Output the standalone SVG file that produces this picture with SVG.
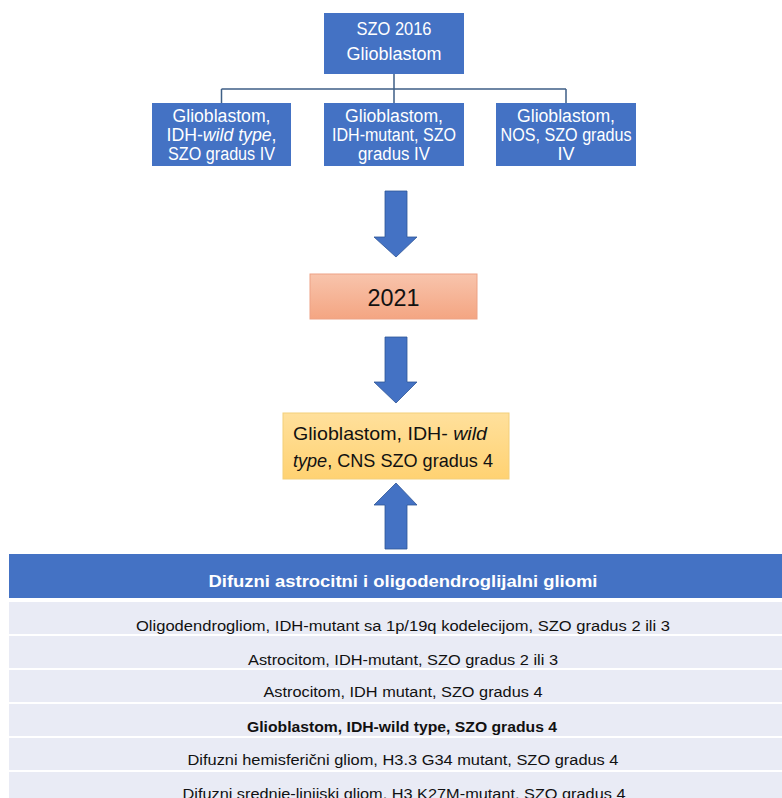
<svg xmlns="http://www.w3.org/2000/svg" width="782" height="798" viewBox="0 0 782 798">
<defs>
<linearGradient id="gOrange" x1="0" y1="0" x2="0" y2="1">
<stop offset="0" stop-color="#F8C4AC"/>
<stop offset="1" stop-color="#F4A582"/>
</linearGradient>
<linearGradient id="gGold" x1="0" y1="0" x2="0" y2="1">
<stop offset="0" stop-color="#FFE09C"/>
<stop offset="1" stop-color="#FFD272"/>
</linearGradient>
<style>
text{font-family:"Liberation Sans",Arial,sans-serif;}
.bbox{fill:#4472C4;}
.wt{fill:#FFFFFF;font-size:18px;text-anchor:middle;}
.bt{fill:#111111;font-size:19px;}
.conn{fill:none;stroke:#3F5F86;stroke-width:1.5;}
.arrow{fill:#4472C4;stroke:#2F5597;stroke-width:0.8;}
.row{fill:#E9EBF5;}
.rt{fill:#111111;font-size:15.5px;text-anchor:middle;}
</style>
</defs>
<rect width="782" height="798" fill="#FFFFFF"/>

<g id="connectors">
<path class="conn" d="M394,74 V89 M221.5,89 H566 M221.5,89 V103 M394,89 V103 M566,89 V103"/>
<path class="arrow" d="M385,191 H407 V237 H417 L396,257 L374,237 H385 Z"/>
<path class="arrow" d="M385,337 H407 V382 H417 L396,403 L374,382 H385 Z"/>
<path class="arrow" d="M385,549 H407 V505 H417 L396,483 L374,505 H385 Z"/>
</g>

<g id="node-szo2016">
<rect class="bbox" x="324" y="13" width="140" height="61"/>
<text class="wt" x="394" y="35" textLength="75" lengthAdjust="spacingAndGlyphs">SZO 2016</text>
<text class="wt" x="394" y="60" textLength="95" lengthAdjust="spacingAndGlyphs">Glioblastom</text>
</g>

<g id="node-wildtype">
<rect class="bbox" x="152" y="103" width="139" height="63"/>
<text class="wt" x="221.5" y="121.5" textLength="98" lengthAdjust="spacingAndGlyphs">Glioblastom,</text>
<text class="wt" x="221.5" y="140.5" textLength="110" lengthAdjust="spacingAndGlyphs">IDH-<tspan font-style="italic">wild type</tspan>,</text>
<text class="wt" x="221.5" y="159.5" textLength="107" lengthAdjust="spacingAndGlyphs">SZO gradus IV</text>
</g>

<g id="node-mutant">
<rect class="bbox" x="324" y="103" width="140" height="63"/>
<text class="wt" x="394" y="121.5" textLength="98" lengthAdjust="spacingAndGlyphs">Glioblastom,</text>
<text class="wt" x="394" y="140.5" textLength="124" lengthAdjust="spacingAndGlyphs">IDH-mutant, SZO</text>
<text class="wt" x="394" y="159.5" textLength="72" lengthAdjust="spacingAndGlyphs">gradus IV</text>
</g>

<g id="node-nos">
<rect class="bbox" x="496" y="103" width="140" height="63"/>
<text class="wt" x="566" y="121.5" textLength="98" lengthAdjust="spacingAndGlyphs">Glioblastom,</text>
<text class="wt" x="566" y="140.5" textLength="131" lengthAdjust="spacingAndGlyphs">NOS, SZO gradus</text>
<text class="wt" x="566" y="159.5">IV</text>
</g>

<g id="node-2021">
<rect x="310" y="274" width="167" height="45" fill="url(#gOrange)" stroke="#EDA285" stroke-width="1"/>
<text x="393.5" y="306" font-size="23" fill="#111111" text-anchor="middle" textLength="52" lengthAdjust="spacingAndGlyphs">2021</text>
</g>

<g id="node-result">
<rect x="283" y="413" width="226" height="66" fill="url(#gGold)" stroke="#F3CF7A" stroke-width="1"/>
<text class="bt" x="293" y="440" textLength="194" lengthAdjust="spacingAndGlyphs">Glioblastom, IDH- <tspan font-style="italic">wild</tspan></text>
<text class="bt" x="293" y="467" textLength="200" lengthAdjust="spacingAndGlyphs"><tspan font-style="italic">type</tspan>, CNS SZO gradus 4</text>
</g>

<g id="node-table">
<rect x="9" y="554" width="790" height="44" fill="#4472C4"/>
<text x="403" y="587" fill="#FFFFFF" font-size="17" font-weight="bold" text-anchor="middle" textLength="389" lengthAdjust="spacingAndGlyphs">Difuzni astrocitni i oligodendroglijalni gliomi</text>
<rect class="row" x="9" y="602" width="790" height="32"/>
<rect class="row" x="9" y="636" width="790" height="32"/>
<rect class="row" x="9" y="670" width="790" height="32"/>
<rect class="row" x="9" y="704" width="790" height="32"/>
<rect class="row" x="9" y="738" width="790" height="32"/>
<rect class="row" x="9" y="772" width="790" height="32"/>
<text class="rt" x="403" y="631" textLength="534" lengthAdjust="spacingAndGlyphs">Oligodendrogliom, IDH-mutant sa 1p/19q kodelecijom, SZO gradus 2 ili 3</text>
<text class="rt" x="403" y="665" textLength="310" lengthAdjust="spacingAndGlyphs">Astrocitom, IDH-mutant, SZO gradus 2 ili 3</text>
<text class="rt" x="403" y="697" textLength="279" lengthAdjust="spacingAndGlyphs">Astrocitom, IDH mutant, SZO gradus 4</text>
<text class="rt" x="402" y="732" font-weight="bold" textLength="310" lengthAdjust="spacingAndGlyphs">Glioblastom, IDH-wild type, SZO gradus 4</text>
<text class="rt" x="403" y="765" textLength="431" lengthAdjust="spacingAndGlyphs">Difuzni hemisferični gliom, H3.3 G34 mutant, SZO gradus 4</text>
<text class="rt" x="404" y="799" textLength="443" lengthAdjust="spacingAndGlyphs">Difuzni srednje-linijski gliom, H3 K27M-mutant, SZO gradus 4</text>
</g>
</svg>
